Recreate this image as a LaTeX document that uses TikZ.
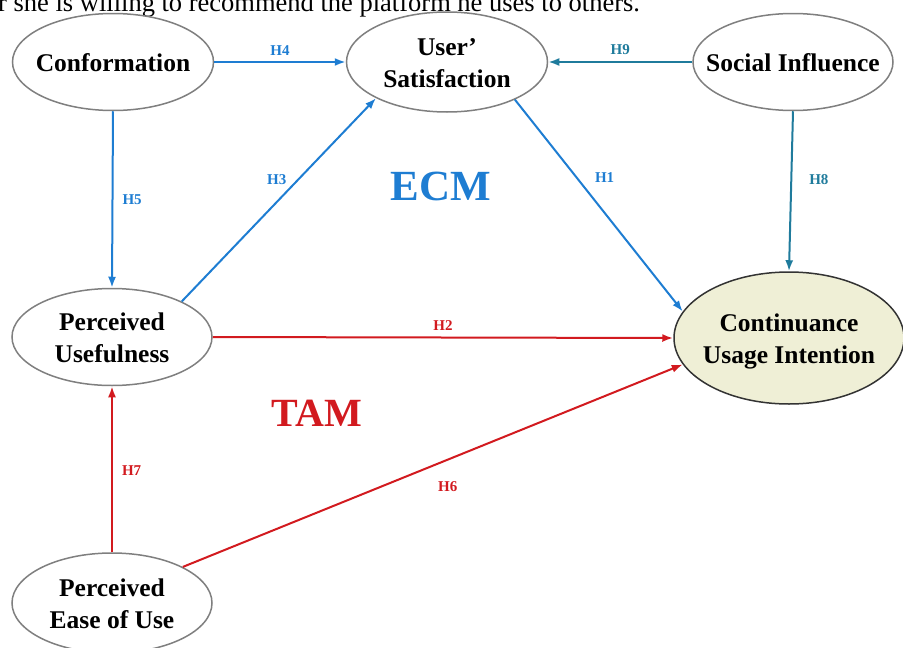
\documentclass[tikz,border=0pt]{standalone}
\usepackage{fontspec}
\setmainfont{Liberation Serif}
\usetikzlibrary{shapes.geometric,arrows.meta}
\definecolor{ecmblue}{HTML}{1E7DD2}
\definecolor{tealc}{HTML}{1F7B9C}
\definecolor{tamred}{HTML}{D21A1F}
\definecolor{cuifill}{HTML}{EFEFD6}
\definecolor{outline}{HTML}{7F7F7F}
\newcommand{\ctext}[1]{\makebox[0pt][c]{\smash{\raisebox{-9.5pt}{\begin{tabular}{@{}c@{}}#1\end{tabular}}}}}
\tikzset{
  construct/.style={ellipse, draw=outline, line width=1.5pt, fill=white, inner sep=0pt,
    font=\fontsize{25.5}{32}\selectfont\bfseries},
  link/.style={line width=2pt, -{Latex[length=11pt,width=8pt]}},
  hlab/.style={font=\fontsize{15}{17}\selectfont\bfseries, inner sep=1pt},
  big/.style={font=\fontsize{43}{48}\selectfont\bfseries}
}
\begin{document}
\begin{tikzpicture}[x=1pt,y=-1pt]
\useasboundingbox (0,0) rectangle (903,648);
\begin{scope}
\clip (0,0) rectangle (903,648);
\node[anchor=base west, inner sep=0pt, font=\fontsize{26.5}{28}\selectfont] (top) at (-2,11) {r she is willing to recommend the platform he uses to others.};

\node[construct, minimum width=201pt, minimum height=97pt] (conf) at (113,62) {\ctext{Conformation}};
\node[construct, minimum width=201pt, minimum height=100pt] (us) at (447,62) {\ctext{User'\\Satisfaction}};
\node[construct, minimum width=200pt, minimum height=97pt] (si) at (793,62) {\ctext{Social Influence}};
\node[construct, minimum width=200pt, minimum height=97pt] (pu) at (112,337) {\ctext{Perceived\\Usefulness}};
\node[construct, fill=cuifill, draw=black!80, minimum width=230pt, minimum height=132pt] (cui) at (789,338) {\ctext{Continuance\\Usage Intention}};
\node[construct, minimum width=200pt, minimum height=100pt] (peu) at (112,603) {\ctext{Perceived\\Ease of Use}};

\draw[link, ecmblue] (conf.east) -- node[hlab, above=5pt] {H4} (us.west);
\draw[link, tealc] (si.west) -- node[hlab, above=5pt] {H9} (us.east);
\draw[link, ecmblue] (conf.south) -- node[hlab, right=8pt, pos=0.5] {H5} (pu.north);
\draw[link, ecmblue] (pu.27) -- node[hlab, pos=0.6, left=10pt] {H3} (us.207);
\draw[link, ecmblue] (us.-29) -- node[hlab, pos=0.37, right=16pt] {H1} (cui.166);
\draw[link, tealc] (si.south) -- node[hlab, right=16pt, pos=0.43] {H8} (cui.north);
\draw[link, tamred] (pu.east) -- node[hlab, above=5pt] {H2} (cui.west);
\draw[link, tamred] (peu.north) -- node[hlab, right=8pt, pos=0.49] {H7} (pu.south);
\draw[link, tamred] (peu.27) -- node[hlab, pos=0.53, below=20pt] {H6} (cui.194);

\node[big, text=ecmblue] (ecm) at (441,186) {ECM};
\node[big, text=tamred, font=\fontsize{40}{44}\selectfont\bfseries] (tam) at (317,413) {TAM};
\end{scope}
\end{tikzpicture}
\end{document}
